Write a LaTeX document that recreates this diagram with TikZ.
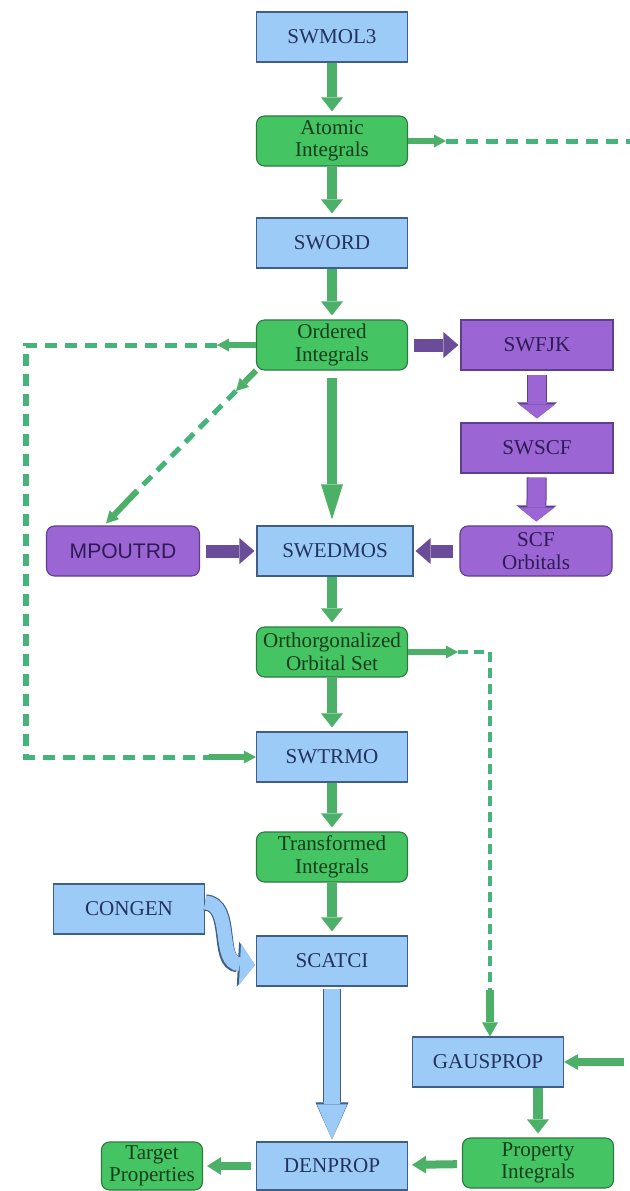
\documentclass[tikz,border=0pt]{standalone}
\usepackage{fontspec}
\setmainfont{Liberation Serif}
\newfontfamily\timesfont{Liberation Serif}
\newfontfamily\arialfont{Liberation Sans}
\usetikzlibrary{arrows.meta,calc}
\definecolor{progfill}{HTML}{9DCBF7}
\definecolor{progedge}{HTML}{3F5F86}
\definecolor{progtext}{HTML}{22335E}
\definecolor{datafill}{HTML}{45C463}
\definecolor{dataedge}{HTML}{2F7A42}
\definecolor{datatext}{HTML}{173D1C}
\definecolor{flowgreen}{HTML}{4DB068}
\definecolor{linkgreen}{HTML}{44B47A}
\definecolor{scffill}{HTML}{9B66D4}
\definecolor{scfedge}{HTML}{5E3E8E}
\definecolor{scftext}{HTML}{2E1A55}
\definecolor{scfarrow}{HTML}{6A4C98}

\begin{document}
\begin{tikzpicture}[
        x=0.025cm, y=-0.025cm,
        every node/.style={font=\timesfont\fontsize{15}{16}\selectfont, align=center, inner sep=1pt},
        prog/.style={draw=progedge, line width=0.8pt, fill=progfill, text=progtext,
                minimum width=3.775cm, minimum height=1.25cm},
        data/.style={draw=dataedge, line width=0.8pt, fill=datafill, text=datatext,
                rounded corners=0.2cm, minimum width=3.775cm, minimum height=1.25cm},
        scfbox/.style={draw=scfedge, line width=0.8pt, fill=scffill, text=scftext,
                minimum width=3.8cm, minimum height=1.25cm},
        scfdata/.style={scfbox, rounded corners=0.2cm},
        flow/.style={draw=flowgreen, line width=0.25cm,
                -{Triangle[length=0.35cm,width=0.55cm,line width=0pt]}, shorten >=0.1cm},
        flowlong/.style={draw=flowgreen, line width=0.25cm,
                -{Triangle[length=0.875cm,width=0.55cm,line width=0pt]},
                shorten <=0.175cm, shorten >=0.15cm},
        flowh/.style={draw=flowgreen, line width=0.2cm,
                -{Triangle[length=0.35cm,width=0.45cm,line width=0pt]},
                shorten <=0.125cm, shorten >=0.1cm},
        tick/.style={draw=flowgreen, line width=0.15cm,
                -{Triangle[length=0.3cm,width=0.325cm,line width=0pt]}},
        tickmid/.style={draw=flowgreen, line width=0.2cm,
                -{Triangle[length=0.35cm,width=0.4cm,line width=0pt]}},
        link/.style={draw=linkgreen, line width=0.125cm, dash pattern=on 0.3cm off 0.2cm},
        linkthin/.style={draw=linkgreen, line width=0.09cm, dash pattern=on 0.25cm off 0.15cm},
        purp/.style={draw=scfarrow, line width=0.325cm,
                -{Triangle[length=0.375cm,width=0.65cm,line width=0pt]},
                shorten <=0.15cm, shorten >=0.05cm},
        purpdown/.style={draw=scffill, line width=0.45cm,
                -{Triangle[length=0.35cm,width=0.9cm,line width=0pt]},
                shorten <=0.1cm, shorten >=0.1cm,
                preaction={draw=scfedge, line width=0.5cm,
                    -{Triangle[length=0.4cm,width=1.0cm,line width=0pt]},
                    shorten <=0.1cm, shorten >=0.1cm}},
        bigblue/.style={draw=progfill, line width=0.4cm,
                -{Triangle[length=0.875cm,width=0.75cm,line width=0pt]},
                shorten <=0.05cm, shorten >=0.05cm,
                preaction={draw=progedge, line width=0.45cm,
                    -{Triangle[length=0.925cm,width=0.825cm,line width=0pt]},
                    shorten <=0.05cm, shorten >=0.05cm}},
        curlblue/.style={draw=progfill, line width=0.35cm,
                -{Triangle[length=0.375cm,width=1.05cm,line width=0pt]},
                preaction={draw=progedge, line width=0.41cm,
                    -{Triangle[length=0.425cm,width=1.125cm,line width=0pt]}}}
    ]

    \path[fill=white] (0,0) rectangle (630,1191);
    \useasboundingbox (0,0) rectangle (630,1191);

    % ================= main column =================
    \node[prog] (swmol)   at (332,37)   {SWMOL3};
    \node[data] (atomic)  at (332,141)  {Atomic\\Integrals};
    \node[prog] (sword)   at (332,243)  {SWORD};
    \node[data] (ordered) at (332,345)  {Ordered\\Integrals};
    \node[prog, minimum width=3.9cm] (swedmos) at (335,551) {SWEDMOS};
    \node[data] (ortho)   at (332,652)  {Orthorgonalized\\Orbital Set};
    \node[prog] (swtrmo)  at (332,757)  {SWTRMO};
    \node[data] (transf)  at (332,857)  {Transformed\\Integrals};
    \node[prog] (scatci)  at (332,961)  {SCATCI};
    \node[prog, minimum height=1.2cm] (denprop) at (332,1166) {DENPROP};

    \draw[flow] (swmol) -- (atomic);
    \draw[flow] (atomic) -- (sword);
    \draw[flow] (sword) -- (ordered);
    \draw[flowlong] (ordered) -- (ordered |- swedmos.north);
    \draw[flow] (swedmos.south -| ortho) -- (ortho);
    \draw[flow] (ortho) -- (swtrmo);
    \draw[flow] (swtrmo) -- (transf);
    \draw[flow] (transf) -- (scatci);

    % ================= SCF branch =================
    \node[scfbox]  (swfjk)  at (537,345) {SWFJK};
    \node[scfbox]  (swscf)  at (537,448) {SWSCF};
    \node[scfdata] (scforb) at (536,551) {SCF\\Orbitals};
    \node[scfdata, minimum width=3.825cm, font=\arialfont\fontsize{15}{16}\selectfont]
    (mpoutrd) at (123,551) {MPOUTRD};

    \draw[purp] (ordered) -- (swfjk);
    \draw[purpdown] (swfjk) -- (swscf);
    \draw[purpdown] (swscf) -- (scforb);
    \draw[purp] (scforb) -- (swedmos);
    \draw[purp] (mpoutrd) -- (swedmos);

    % ================= dashed links =================
    \coordinate (atomicout) at (446,141);
    \coordinate (rimtop)    at (632,141);
    \draw[link] (atomicout) -- (rimtop);
    \draw[tick] (atomic) -- (atomicout);

    \coordinate (ordout)   at (217,345);
    \coordinate (leftup)   at (26,345);
    \coordinate (leftdown) at (26,757);
    \coordinate (trmoin)   at (209,757);
    \draw[link] (ordout) -- (leftup) -- (leftdown) -- (trmoin);
    \draw[tick] (ordered) -- (ordout);
    \draw[tick] (trmoin) -- (swtrmo);

    \coordinate (diaga) at (236,391);
    \coordinate (diagb) at (137,491);
    \coordinate (mpin)  at ($(mpoutrd.north)+(-17,-2)$);
    \draw[link] (diaga) -- (diagb);
    \draw[tick] (ordered.south west) -- (diaga);
    \draw[tick] (diagb) -- (mpin);

    \coordinate (orthout)   at (458,652);
    \coordinate (rightturn) at (490,652);
    \coordinate (gausin)    at (490,990);
    \draw[linkthin] (orthout) -- (rightturn) -- (gausin);
    \draw[tick] (ortho) -- (orthout);

    % ================= properties =================
    \node[prog] (congen)   at (129,909)  {CONGEN};
    \node[prog] (gausprop) at (488,1062) {GAUSPROP};
    \node[data] (propint)  at (538,1163) {Property\\Integrals};
    \node[data, minimum width=2.525cm, minimum height=1.2cm] (target) at (152,1166) {Target\\Properties};

    \coordinate (rimlow)   at (624,1062);
    \coordinate (congout)  at ($(congen.north east)+(0,19)$);
    \coordinate (scatin)   at ($(scatci.west)+(-1,4)$);

    \draw[tickmid] (gausin) -- (gausprop.north -| gausin);
    \draw[tickmid] (rimlow) -- (gausprop);
    \draw[flow] (gausprop.south -| propint) -- (propint);
    \draw[flowh] (propint) -- (denprop);
    \draw[flowh] (denprop) -- (target);
    \draw[bigblue] (scatci) -- (denprop);
    \draw[curlblue] (congout) .. controls (234,904) and (216,963) .. (scatin);

\end{tikzpicture}
\end{document}
